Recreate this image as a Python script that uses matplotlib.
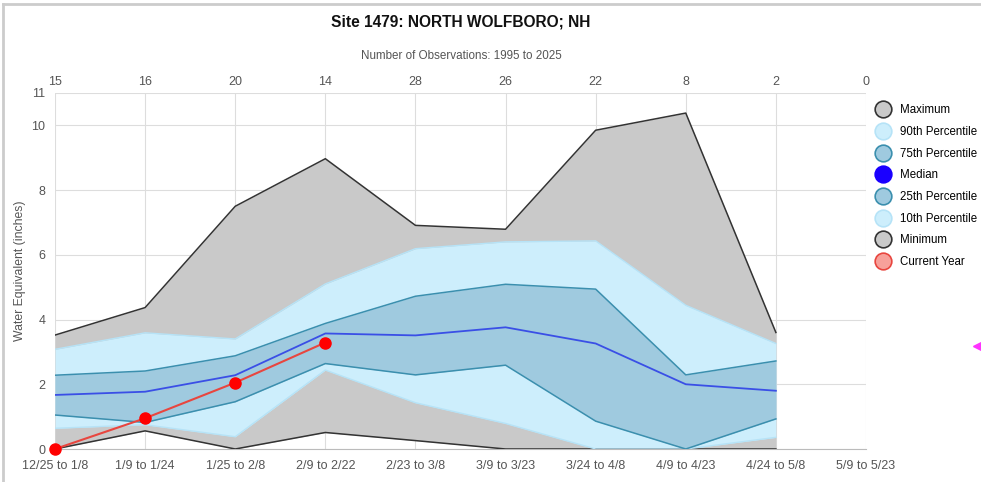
import numpy as np
import matplotlib.pyplot as plt
from matplotlib.lines import Line2D

plt.rcParams['font.family'] = ['Liberation Sans', 'DejaVu Sans']

# --- Data ---
periods = ["12/25 to 1/8", "1/9 to 1/24", "1/25 to 2/8", "2/9 to 2/22", "2/23 to 3/8",
           "3/9 to 3/23", "3/24 to 4/8", "4/9 to 4/23", "4/24 to 5/8", "5/9 to 5/23"]
n_obs = [15, 16, 20, 14, 28, 26, 22, 8, 2, 0]

maximum = [3.52, 4.37, 7.5, 8.97, 6.91, 6.79, 9.85, 10.38, 3.6]
p90 = [3.08, 3.59, 3.4, 5.1, 6.19, 6.4, 6.43, 4.44, 3.26]
p75 = [2.28, 2.41, 2.88, 3.88, 4.72, 5.09, 4.94, 2.29, 2.72]
median = [1.67, 1.77, 2.28, 3.57, 3.51, 3.76, 3.26, 2.0, 1.8]
p25 = [1.05, 0.82, 1.46, 2.64, 2.29, 2.59, 0.86, 0.0, 0.93]
p10 = [0.64, 0.75, 0.38, 2.44, 1.43, 0.79, 0.0, 0.0, 0.36]
minimum = [0.0, 0.56, 0.0, 0.51, 0.26, 0.0, 0.0, 0.0, 0.0]
current = [0.0, 0.95, 2.05, 3.29]

x = np.arange(len(maximum))
xc = np.arange(len(current))

fig = plt.figure(figsize=(9.81, 4.82), dpi=100)
ax = fig.add_axes([55 / 981, 1 - 449 / 482, (866 - 55) / 981, (449 - 93) / 482])

gray_fill = "#c9c9c9"
light_fill = "#cdeefc"
mid_fill = "#9fcadf"

ax.fill_between(x, minimum, maximum, color=gray_fill, lw=0, zorder=1)
ax.fill_between(x, p10, p90, color=light_fill, lw=0, zorder=2)
ax.fill_between(x, p25, p75, color=mid_fill, lw=0, zorder=3)

ax.plot(x, maximum, color="#333333", lw=1.1, zorder=4)
ax.plot(x, minimum, color="#333333", lw=1.1, zorder=4)
ax.plot(x, p90, color="#b6e3f7", lw=1, zorder=4)
ax.plot(x, p10, color="#b6e3f7", lw=1, zorder=4)
ax.plot(x, p75, color="#3b8fae", lw=1.1, zorder=4)
ax.plot(x, p25, color="#3b8fae", lw=1.1, zorder=4)
ax.plot(x, median, color="#3a4fe6", lw=1.3, zorder=5)
ax.plot(xc, current, color="#e8463f", lw=1.5, zorder=6,
        marker="o", ms=8, mfc="#ff0000", mec="#ff0000", clip_on=False)

ax.set_xlim(0, len(periods) - 1)
ax.set_ylim(0, 11)
ax.set_xticks(np.arange(len(periods)))
ax.set_xticklabels(periods)
ax.set_yticks([0, 2, 4, 6, 8, 10, 11])
ax.set_yticklabels(["0", "2", "4", "6", "8", "10", "11"])
ax.grid(True, color="#dddddd", lw=0.8, zorder=0)
ax.set_axisbelow(True)
ax.tick_params(axis="both", length=0, labelsize=9, colors="#555555")
ax.tick_params(axis="x", pad=8)
ax.tick_params(axis="y", pad=7)
for side in ["top", "right", "left"]:
    ax.spines[side].set_visible(False)
ax.spines["bottom"].set_color("#bbbbbb")
ax.set_ylabel("Water Equivalent (inches)", fontsize=8.8, color="#555555", labelpad=4)

# top axis: number of observations
ax2 = ax.twiny()
ax2.set_xlim(ax.get_xlim())
ax2.set_xticks(np.arange(len(periods)))
ax2.set_xticklabels([str(v) for v in n_obs])
ax2.tick_params(axis="x", length=0, labelsize=9, colors="#555555", pad=3.5)
for s in ax2.spines.values():
    s.set_visible(False)

fig.text(461 / 981, 1 - 22 / 482, "Site 1479: NORTH WOLFBORO; NH", ha="center", va="center",
         fontsize=11.2, fontweight="bold", color="#111111")
fig.text(461 / 981, 1 - 56 / 482, "Number of Observations: 1995 to 2025", ha="center", va="center",
         fontsize=8.4, color="#555555")

# legend
def circle(face, edge):
    return Line2D([], [], ls="", marker="o", ms=12, mfc=face, mec=edge, mew=1.2)

handles = [
    circle("#c9c9c9", "#333333"),
    circle("#cdeefc", "#b6e3f7"),
    circle("#9fcadf", "#3b8fae"),
    circle("#1a00ff", "#1a00ff"),
    circle("#9fcadf", "#3b8fae"),
    circle("#cdeefc", "#b6e3f7"),
    circle("#c9c9c9", "#333333"),
    circle("#f7a09a", "#e8463f"),
]
labels = ["Maximum", "90th Percentile", "75th Percentile", "Median",
          "25th Percentile", "10th Percentile", "Minimum", "Current Year"]
fig.legend(handles, labels, loc="upper left", bbox_to_anchor=(873 / 981, 1 - 102 / 482),
           frameon=False, fontsize=8.3, handletextpad=0.7, labelspacing=0.84,
           handlelength=1.4, borderaxespad=0, borderpad=0.2)

# outer frame
fig.add_artist(Line2D([3 / 981, 1], [1 - 4 / 482, 1 - 4 / 482], color="#cccccc", lw=2))
fig.add_artist(Line2D([3 / 981, 3 / 981], [0, 1 - 4 / 482], color="#cccccc", lw=2))
# small magenta marker at the right edge
fig.add_artist(Line2D([978 / 981], [1 - 346 / 482], ls="", marker="<", ms=7,
                      color="#ff33ff"))

fig.savefig("out.png", dpi=100)
